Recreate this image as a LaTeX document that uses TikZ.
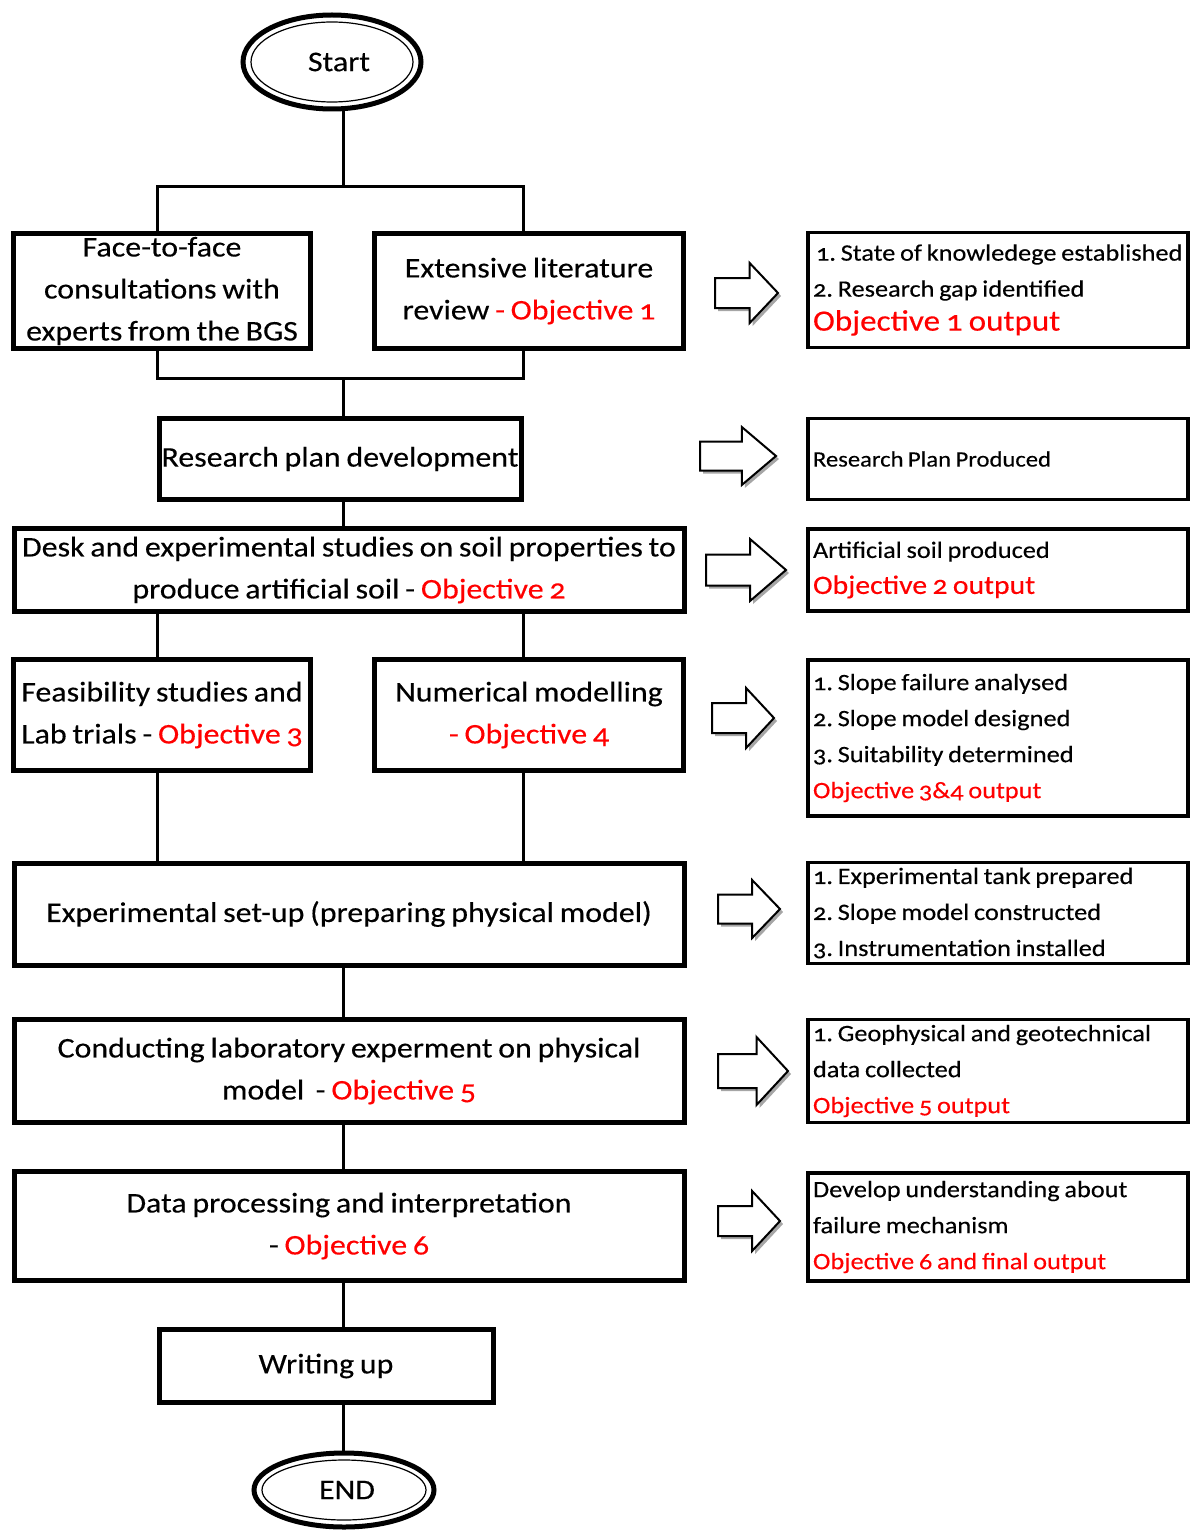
\documentclass[tikz,border=0pt]{standalone}
\usepackage{fontspec}
\setmainfont{Carlito}[Numbers=OldStyle, FakeStretch=1.12, FakeBold=0.3, WordSpace=0.8]
\usetikzlibrary{shapes.geometric,shadows,calc}
\definecolor{objred}{RGB}{255,0,0}
\tikzset{
  mainbox/.style={draw, line width=5pt, rectangle, align=center, inner sep=2pt,
    font=\fontsize{28.5}{42}\selectfont},
  outbox/.style={draw, line width=3.5pt, rectangle, minimum width=380pt, text width=370pt,
    align=flush left, inner xsep=4pt, font=\fontsize{23.5}{36}\selectfont},
  conn/.style={line width=3pt},
  barrowst/.style={draw, line width=2pt, fill=white, line join=miter,
    drop shadow={shadow xshift=3pt, shadow yshift=-3pt, opacity=0.35, fill=black}},
  term/.style={ellipse, draw, line width=5pt, inner sep=0pt,
    font=\fontsize{28.5}{34}\selectfont},
}
\newcommand{\obj}[1]{\textcolor{objred}{#1}}
\newcommand{\barrow}[4]{%
  \draw[barrowst] (#1,#2-#4/4) -- (#1+0.55*#3,#2-#4/4) -- (#1+0.55*#3,#2-#4/2)
    -- (#1+#3,#2) -- (#1+0.55*#3,#2+#4/2) -- (#1+0.55*#3,#2+#4/4) -- (#1,#2+#4/4) -- cycle;}
\begin{document}
\frenchspacing
\begin{tikzpicture}[x=1pt,y=-1pt]
\useasboundingbox (0,0) rectangle (1192,1530);

% terminals
\node[term, minimum width=178pt, minimum height=94pt] (start) at (332,62) {\hspace{14pt}Start};
\draw[line width=1.2pt] (start.center) ellipse [x radius=81pt, y radius=40pt];
\node[term, minimum width=180pt, minimum height=74pt] (end) at (344,1490) {\hspace{6pt}END};
\draw[line width=1.2pt] (end.center) ellipse [x radius=82pt, y radius=30pt];

% main boxes
\node[mainbox, minimum width=297pt, minimum height=115pt] (f2f) at (162,291)
  {Face-to-face\\consultations with\\experts from the BGS};
\node[mainbox, minimum width=309pt, minimum height=115pt] (lit) at (529,291)
  {Extensive literature\\review \obj{- Objective 1}};
\node[mainbox, minimum width=362pt, minimum height=81pt] (plan) at (340,459)
  {Research plan development};
\node[mainbox, minimum width=670pt, minimum height=83pt] (desk) at (349,570)
  {Desk and experimental studies on soil properties to\\produce artificial soil - \obj{Objective 2}};
\node[mainbox, minimum width=297pt, minimum height=111pt, align=left] (feas) at (162,715)
  {Feasibility studies and\\Lab trials - \obj{Objective 3}};
\node[mainbox, minimum width=309pt, minimum height=111pt] (num) at (529,715)
  {Numerical modelling\\\obj{- Objective 4}};
\node[mainbox, minimum width=670pt, minimum height=102pt] (exp) at (349,914)
  {Experimental set-up (preparing physical model)};
\node[mainbox, minimum width=670pt, minimum height=103pt] (cond) at (349,1071)
  {Conducting laboratory experment on physical\\model\ \ - \obj{Objective 5}};
\node[mainbox, minimum width=670pt, minimum height=109pt] (data) at (349,1226)
  {Data processing and interpretation\\- \obj{Objective 6}};
\node[mainbox, minimum width=334pt, minimum height=73pt] (write) at (326,1366)
  {Writing up};

% output boxes
\node[outbox, minimum height=115pt] (o1) at (998,290)
  {\hspace{3pt}1. State of knowledege established\\2. Research gap identified\\[-2pt]
   {\fontsize{29.5}{38}\selectfont\obj{Objective 1 output}}};
\node[outbox, minimum height=81pt, font=\fontsize{22}{30}\selectfont] (o2) at (998,459)
  {Research Plan Produced};
\node[outbox, minimum height=82pt] (o3) at (998,570)
  {Artificial soil produced\\{\fontsize{26.5}{36}\selectfont\obj{Objective 2 output}}};
\node[outbox, minimum height=156pt] (o4) at (998,738)
  {1. Slope failure analysed\\2. Slope model designed\\3. Suitability determined\\\obj{Objective 3\&4 output}};
\node[outbox, minimum height=101pt] (o5) at (998,913)
  {1. Experimental tank prepared\\2. Slope model constructed\\3. Instrumentation installed};
\node[outbox, minimum height=103pt] (o6) at (998,1071)
  {1. Geophysical and geotechnical\\data collected\\\obj{Objective 5 output}};
\node[outbox, minimum height=108pt] (o7) at (998,1227)
  {Develop understanding about\\failure mechanism\\\obj{Objective 6 and final output}};

% junction coordinates
\coordinate (jt) at (343,187);
\coordinate (jtl) at (157,187);
\coordinate (jtr) at (523,187);
\coordinate (jb) at (343,378);
\coordinate (jbl) at (157,378);
\coordinate (jbr) at (523,378);

% connectors
\draw[conn] (start.south -| jt) -- (jt);
\draw[conn] (f2f.north -| jtl) -- (jtl) -- (jtr) -- (lit.north -| jtr);
\draw[conn] (f2f.south -| jbl) -- (jbl) -- (jbr) -- (lit.south -| jbr);
\draw[conn] (jb) -- (plan.north -| jb);
\draw[conn] (plan.south -| jb) -- (desk.north -| jb);
\draw[conn] (desk.south -| jbl) -- (feas.north -| jbl);
\draw[conn] (desk.south -| jbr) -- (num.north -| jbr);
\draw[conn] (feas.south -| jbl) -- (exp.north -| jbl);
\draw[conn] (num.south -| jbr) -- (exp.north -| jbr);
\draw[conn] (exp.south -| jb) -- (cond.north -| jb);
\draw[conn] (cond.south -| jb) -- (data.north -| jb);
\draw[conn] (data.south -| jb) -- (write.north -| jb);
\draw[conn] (write.south -| jb) -- (end.north -| jb);

% block arrows
\barrow{715}{293}{63}{60}
\barrow{700}{456}{76}{58}
\barrow{706}{570}{80}{62}
\barrow{712}{718}{62}{60}
\barrow{718}{909}{62}{58}
\barrow{718}{1071}{70}{68}
\barrow{718}{1221}{62}{60}
\end{tikzpicture}
\end{document}
